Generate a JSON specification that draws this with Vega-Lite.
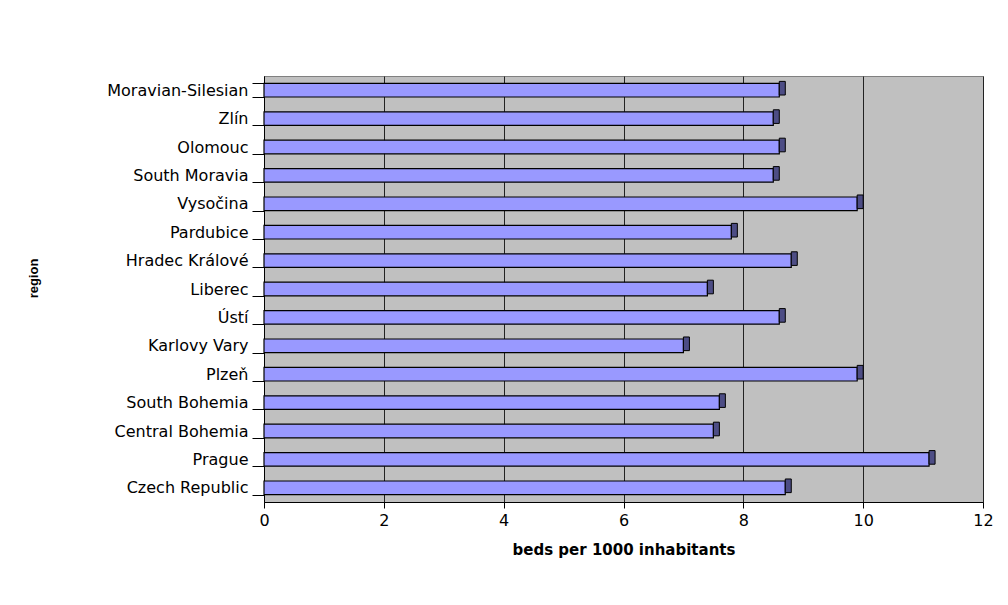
{
  "$schema": "https://vega.github.io/schema/vega-lite/v6.json",
  "autosize": {"type": "none"},
  "padding": {"left": 264, "top": 76, "right": 25, "bottom": 103},
  "width": 719,
  "height": 426,
  "background": "white",
  "config": {
    "font": "DejaVu Sans",
    "view": {"fill": "#C0C0C0", "stroke": "#808080", "strokeWidth": 1}
  },
  "data": {
    "values": [
      {"region": "Moravian-Silesian", "beds": 8.6},
      {"region": "Zlín", "beds": 8.5},
      {"region": "Olomouc", "beds": 8.6},
      {"region": "South Moravia", "beds": 8.5},
      {"region": "Vysočina", "beds": 9.9},
      {"region": "Pardubice", "beds": 7.8},
      {"region": "Hradec Králové", "beds": 8.8},
      {"region": "Liberec", "beds": 7.4},
      {"region": "Ústí", "beds": 8.6},
      {"region": "Karlovy Vary", "beds": 7.0},
      {"region": "Plzeň", "beds": 9.9},
      {"region": "South Bohemia", "beds": 7.6},
      {"region": "Central Bohemia", "beds": 7.5},
      {"region": "Prague", "beds": 11.1},
      {"region": "Czech Republic", "beds": 8.7}
    ]
  },
  "encoding": {
    "y": {
      "field": "region",
      "type": "nominal",
      "sort": null,
      "scale": {"paddingInner": 0.52, "paddingOuter": 0.26},
      "axis": {
        "title": "region",
        "titleFont": "Liberation Sans",
        "titleFontSize": 13,
        "titleFontWeight": "bold",
        "titleColor": "#000000",
        "titleX": -231,
        "titleY": 202,
        "titleAngle": -90,
        "titleAlign": "center",
        "titleBaseline": "middle",
        "labelFont": "DejaVu Sans",
        "labelFontSize": 16,
        "labelColor": "#000000",
        "labelPadding": 4,
        "tickSize": 12,
        "tickColor": "#000000",
        "tickBand": "extent",
        "domainColor": "#000000",
        "grid": false
      }
    }
  },
  "layer": [
    {
      "mark": {"type": "bar", "fill": "#9999FF", "stroke": "#000000", "strokeWidth": 1.2},
      "encoding": {
        "x": {
          "field": "beds",
          "type": "quantitative",
          "scale": {"domain": [0, 12], "nice": false},
          "axis": {
            "title": "beds per 1000 inhabitants",
            "values": [0, 2, 4, 6, 8, 10, 12],
            "format": "d",
            "titleFont": "DejaVu Sans",
            "titleFontSize": 15,
            "titleFontWeight": "bold",
            "titleColor": "#000000",
            "titlePadding": 14,
            "labelFont": "DejaVu Sans",
            "labelFontSize": 16,
            "labelColor": "#000000",
            "labelPadding": 4,
            "labelFlush": false,
            "tickSize": 6,
            "tickColor": "#000000",
            "domainColor": "#000000",
            "grid": true,
            "gridColor": "#222222",
            "gridWidth": 1
          }
        }
      }
    },
    {
      "mark": {"type": "bar", "fill": "#4D4D85", "stroke": "#000000", "strokeWidth": 1, "x2Offset": 6, "yOffset": -2},
      "encoding": {
        "x": {"field": "beds", "type": "quantitative"},
        "x2": {"field": "beds"}
      }
    }
  ]
}
